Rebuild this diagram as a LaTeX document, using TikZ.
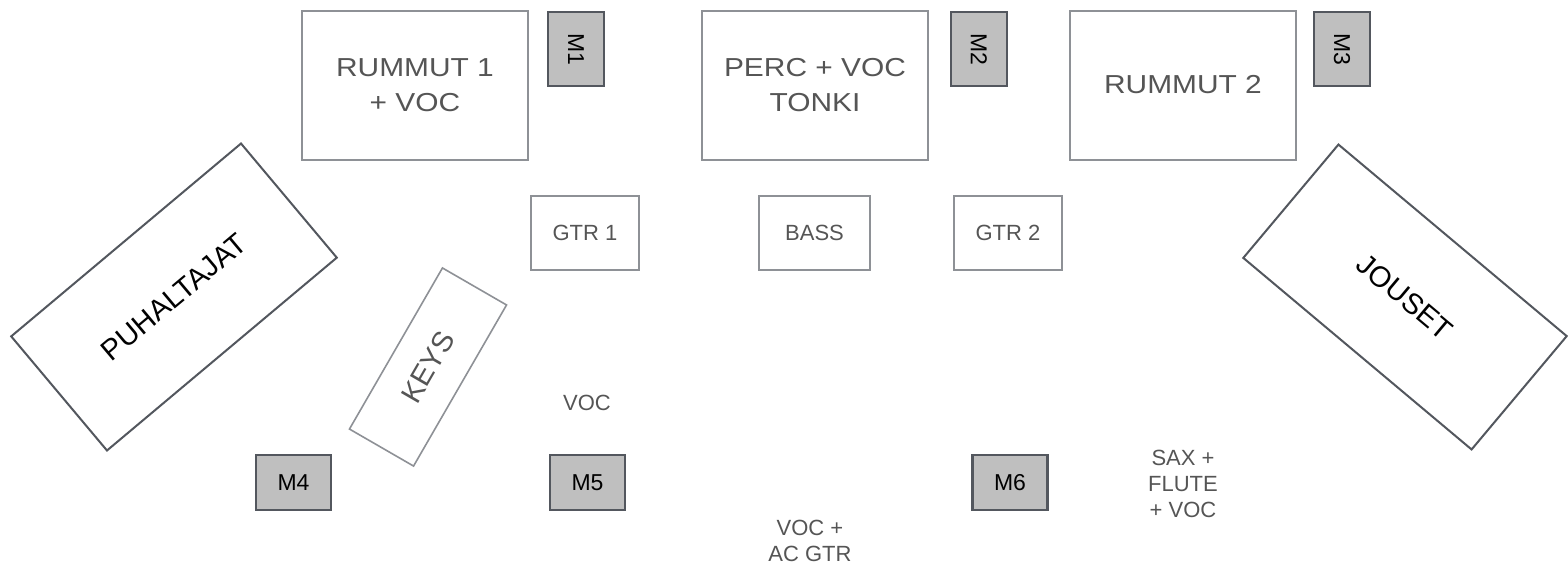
\documentclass[tikz,border=0pt]{standalone}
\usepackage{fontspec}
\setmainfont{Liberation Sans}
\newfontfamily\bigf{Liberation Sans}[FakeStretch=1.15]
\definecolor{boxgray}{HTML}{8E9196}
\definecolor{darkline}{HTML}{53575E}
\definecolor{mfill}{HTML}{BFBFBF}
\definecolor{txtgray}{HTML}{555555}
\tikzset{
  bigbox/.style={draw=boxgray, line width=2pt, minimum width=226pt, minimum height=149pt, inner sep=0pt, align=center, text=txtgray, font=\bigf\fontsize{26}{35}\selectfont},
  smallbox/.style={draw=boxgray, line width=1.6pt, minimum height=74pt, inner sep=0pt, text=txtgray, font=\fontsize{22}{26}\selectfont},
  mbox/.style={draw=darkline, fill=mfill, line width=2.2pt, inner sep=0pt, text=black, font=\fontsize{23}{26}\selectfont},
  mvert/.style={mbox, minimum width=56pt, minimum height=74pt},
  mhor/.style={mbox, minimum width=75pt, minimum height=55pt},
  tiltbox/.style={draw=darkline, line width=2pt, inner sep=0pt, text=black, font=\fontsize{29}{35}\selectfont},
  lbl/.style={inner sep=0pt, align=center, text=txtgray, font=\fontsize{22}{26}\selectfont}
}
\begin{document}
\begin{tikzpicture}[x=1pt, y=-1pt]
\useasboundingbox (0,0) rectangle (1568,566);
\node[bigbox] (r1) at (415,85) {RUMMUT 1\\+ VOC};
\node[mvert] (m1) at (576,49) {\rotatebox{-90}{M1}};
\node[bigbox] (perc) at (815,85) {PERC + VOC\\TONKI};
\node[mvert] (m2) at (979,49) {\rotatebox{-90}{M2}};
\node[bigbox] (r2) at (1183,85) {RUMMUT 2};
\node[mvert] (m3) at (1342,49) {\rotatebox{-90}{M3}};
\node[smallbox, minimum width=108pt] (gtr1) at (585,233) {GTR 1};
\node[smallbox, minimum width=111pt] (bass) at (814.5,233) {BASS};
\node[smallbox, minimum width=108pt] (gtr2) at (1008,233) {GTR 2};
\node[tiltbox, minimum width=300pt, minimum height=149pt, rotate=40] (puh) at (174,297) {PUHALTAJAT};
\node[tiltbox, draw=boxgray, text=txtgray, line width=1.6pt, minimum width=186pt, minimum height=74pt, rotate=60] (keys) at (428,367) {KEYS};
\node[tiltbox, minimum width=298pt, minimum height=148pt, rotate=-40] (jouset) at (1405,297) {JOUSET};
\node[mhor] (m4) at (293.5,482.5) {M4};
\node[mhor] (m5) at (587.5,482.5) {M5};
\node[mhor] (m6) at (1010,482.5) {M6};
\node[lbl] (voc) at (587,403) {VOC};
\node[lbl] (vocac) at (810,541) {VOC +\\AC GTR};
\node[lbl] (sax) at (1183,484) {SAX +\\FLUTE\\+ VOC};
\end{tikzpicture}
\end{document}
